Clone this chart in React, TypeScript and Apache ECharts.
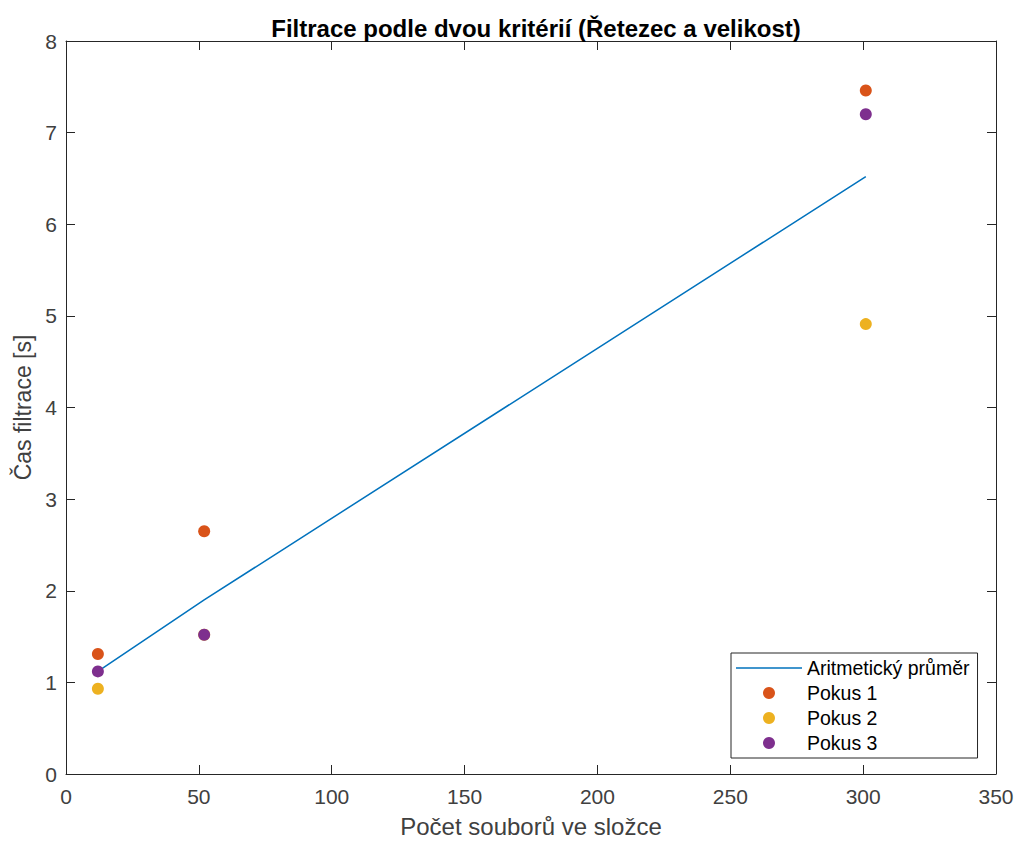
import React, { useEffect, useRef } from "react";
import * as echarts from "echarts";

const titleText = "Filtrace podle dvou kritérií (Řetezec a velikost)";
const xName = "Počet souborů ve složce";
const yName = "Čas filtrace [s]";
const fileCounts = [12, 52, 301];
const meanTimes = [1.12, 1.9, 6.52];
const pokus1 = [1.31, 2.65, 7.46];
const pokus2 = [0.93, 1.52, 4.91];
const pokus3 = [1.12, 1.52, 7.2];
const seriesNames = ["Aritmetický průměr", "Pokus 1", "Pokus 2", "Pokus 3"];
const colors = ["#0072BD", "#D95319", "#EDB120", "#7E2F8E"];

const pairs = (ys: number[]) => fileCounts.map((x, i) => [x, ys[i]]);

export default function App() {
  const ref = useRef<HTMLDivElement>(null);
  useEffect(() => {
    if (!ref.current) return;
    const chart = echarts.init(ref.current, undefined, { renderer: "svg" });
    const font = "Arial, 'Liberation Sans', Helvetica, sans-serif";
    const axisColor = "#262626";
    const labelColor = "#404040";
    const baseX = {
      type: "value" as const,
      min: 0,
      max: 350,
      interval: 50,
      splitLine: { show: false },
      axisLine: { show: true, onZero: false, lineStyle: { color: axisColor, width: 1 } },
      axisTick: { show: true, inside: true, length: 9, lineStyle: { color: axisColor } },
    };
    const baseY = {
      type: "value" as const,
      min: 0,
      max: 8,
      interval: 1,
      splitLine: { show: false },
      axisLine: { show: true, onZero: false, lineStyle: { color: axisColor, width: 1 } },
      axisTick: { show: true, inside: true, length: 9, lineStyle: { color: axisColor } },
    };
    chart.setOption({
      animation: false,
      backgroundColor: "#ffffff",
      textStyle: { fontFamily: font },
      title: {
        text: titleText,
        left: 531,
        top: 11,
        textAlign: "center",
        textStyle: { fontFamily: font, fontSize: 24, fontWeight: "bold", color: "#000000" },
      },
      grid: { left: 66, right: 23, top: 41, bottom: 67, containLabel: false },
      xAxis: [
        {
          ...baseX,
          position: "bottom",
          name: xName,
          nameLocation: "middle",
          nameGap: 40,
          nameTextStyle: { fontFamily: font, fontSize: 24, color: labelColor },
          axisLabel: { show: true, margin: 12, fontFamily: font, fontSize: 21, color: labelColor },
        },
        {
          ...baseX,
          position: "top",
          axisLabel: { show: false },
        },
      ],
      yAxis: [
        {
          ...baseY,
          position: "left",
          name: yName,
          nameLocation: "middle",
          nameGap: 28,
          nameTextStyle: { fontFamily: font, fontSize: 23, color: labelColor },
          axisLabel: { show: true, margin: 9, fontFamily: font, fontSize: 21, color: labelColor },
        },
        {
          ...baseY,
          position: "right",
          axisLabel: { show: false },
        },
      ],
      legend: {
        orient: "vertical",
        left: 731,
        top: 653,
        padding: [5, 8, 5, 5],
        itemGap: 5,
        itemWidth: 66,
        itemHeight: 12,
        backgroundColor: "#ffffff",
        borderColor: axisColor,
        borderWidth: 1,
        borderRadius: 0,
        textStyle: { fontFamily: font, fontSize: 19.5, color: "#000000", lineHeight: 20 },
        data: [
          { name: seriesNames[0], icon: "path://M0,0 H66 V1.5 H0 Z" },
          seriesNames[1],
          seriesNames[2],
          seriesNames[3],
        ],
      },
      series: [
        {
          name: seriesNames[0],
          type: "line",
          data: pairs(meanTimes),
          symbol: "none",
          lineStyle: { color: colors[0], width: 1.5 },
          itemStyle: { color: colors[0] },
          z: 2,
        },
        {
          name: seriesNames[1],
          type: "scatter",
          data: pairs(pokus1),
          symbol: "circle",
          symbolSize: 12,
          itemStyle: { color: colors[1], opacity: 1 },
          z: 3,
        },
        {
          name: seriesNames[2],
          type: "scatter",
          data: pairs(pokus2),
          symbol: "circle",
          symbolSize: 12,
          itemStyle: { color: colors[2], opacity: 1 },
          z: 4,
        },
        {
          name: seriesNames[3],
          type: "scatter",
          data: pairs(pokus3),
          symbol: "circle",
          symbolSize: 12,
          itemStyle: { color: colors[3], opacity: 1 },
          z: 5,
        },
      ],
    });
    return () => chart.dispose();
  }, []);
  return (
    <div
      ref={ref}
      style={{ position: "absolute", left: 0, top: 0, width: 1019, height: 843 }}
    />
  );
}
